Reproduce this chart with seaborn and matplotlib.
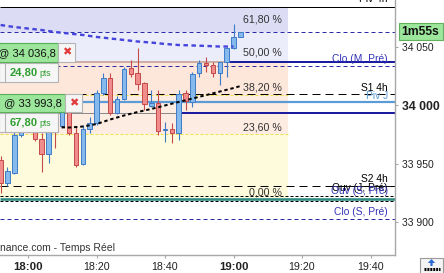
import matplotlib
matplotlib.use("Agg")
import matplotlib.pyplot as plt
import seaborn as sns
import pandas as pd
import numpy as np
from matplotlib.patches import Rectangle, Polygon

# ---------------- data ----------------
candle_minutes = list(range(-8, 64, 2))  # minutes after 18:00, 2-minute candles
opens = [33953.3, 33933.7, 33942.2, 33974.7, 33989.3, 33982.4, 33971.3, 33958.5, 33987.6, 33982.4,
         34002.1, 33976.4, 33949.9, 33979.9, 33985.0, 34010.7, 34023.5, 33993.5, 34005.5, 34032.0,
         34027.8, 34019.2, 33999.5, 34002.1, 33979.0, 33979.9, 33976.4, 34010.7, 34003.0, 34027.8,
         34036.3, 34034.6, 34027.8, 34037.2, 34049.1, 34058.6]
highs = [33956.8, 33947.3, 33979.0, 33994.4, 33996.1, 33985.8, 33976.4, 33989.3, 33991.8, 34006.4,
         34004.7, 33981.6, 33983.3, 33990.1, 34013.2, 34027.8, 34027.8, 34008.1, 34032.9, 34038.9,
         34049.1, 34020.1, 34013.2, 34013.2, 33985.8, 33985.0, 34013.2, 34013.2, 34028.6, 34038.9,
         34041.4, 34037.2, 34037.2, 34050.0, 34069.7, 34062.8]
lows = [33925.1, 33931.1, 33941.4, 33973.0, 33979.0, 33969.6, 33943.1, 33950.8, 33963.6, 33980.7,
        33974.7, 33947.3, 33949.1, 33976.4, 33983.3, 34008.9, 33991.8, 33992.7, 34004.7, 34024.3,
        34013.2, 33996.1, 33998.7, 33974.7, 33968.7, 33967.9, 33970.4, 33996.1, 33998.7, 34024.3,
        34028.6, 34024.3, 34017.5, 34024.3, 34048.3, 34058.6]
closes = [33933.7, 33943.9, 33974.7, 33989.3, 33982.4, 33971.3, 33958.5, 33985.8, 33980.7, 34002.1,
          33976.4, 33949.1, 33979.9, 33985.0, 34010.7, 34023.5, 33993.5, 34005.5, 34031.2, 34026.9,
          34018.4, 34001.2, 34002.1, 33978.1, 33979.9, 33976.4, 34009.8, 34003.8, 34026.9, 34036.3,
          34034.6, 34027.8, 34037.2, 34049.1, 34058.6, 34062.8]

ma_fast_minutes = list(range(-8, 64, 4))
ma_fast = [34068.8, 34067.1, 34065.8, 34064.5, 34062.8, 34061.5, 34060.3, 34058.6, 34057.3,
           34056.0, 34054.7, 34053.8, 34052.6, 34051.7, 34051.3, 34050.9, 34050.4, 34050.4]
ma_slow_minutes = [8, 12, 16, 20, 24, 28, 32, 36, 40, 44, 48, 52, 56, 60, 62]
ma_slow = [33981.6, 33981.1, 33982.0, 33984.1, 33988.0, 33991.4, 33994.4, 33997.0, 34000.0,
           34003.0, 34005.9, 34008.9, 34011.9, 34014.9, 34016.6]

fib_low = 33921.0
fib_high = 34151.0
fib_pcts = [0.0, 23.6, 38.2, 50.0, 61.8]
fib_labels = ["0,00 %", "23,60 %", "38,20 %", "50,00 %", "61,80 %"]

piv_4h = 34084.2
upper_dash = 34062.8
order_1 = 34036.8
order_1_text = "@ 34 036,8"
order_1_pts = "24,80"
mid_dash = 34033.7
s1_4h = 34009.8
piv_j = 34003.0
order_2 = 33993.8
order_2_text = "@ 33 993,8"
order_2_pts = "67,80"
s2_4h = 33931.0
ouv_j_pre = 33922.9
ouv_s_pre = 33920.0
low_dash = 33918.3
clo_s_pre = 33902.6

x_ticks = [0, 20, 40, 60, 80, 100]
x_tick_labels = ["18:00", "18:20", "18:40", "19:00", "19:20", "19:40"]
y_ticks = [33900, 33950, 34000, 34050]
y_tick_labels = ["33 900", "33 950", "34 000", "34 050"]
countdown = "1m55s"
source_text = "nance.com - Temps Réel"

# ---------------- style ----------------
sns.set_theme(style="white")
plt.rcParams["font.family"] = ["Liberation Sans", "DejaVu Sans"]
plt.rcParams["lines.scale_dashes"] = False

W, H = 444, 273
PR, PB = 395, 255          # plot right / bottom in px
X0, X1 = -8.18, 107.15
Y0, Y1 = 33872.1, 34090.2
fib_end = 76.0
PX = 0.72                  # px -> pt

fig = plt.figure(figsize=(W / 100, H / 100), dpi=100, facecolor="white")
ax = fig.add_axes([0, 1 - PB / H, PR / W, PB / H])
ax.set_facecolor("white")
ax.set_xlim(X0, X1)
ax.set_ylim(Y0, Y1)

def price_px(p):
    return (Y1 - p) / (Y1 - Y0) * PB

# Fibonacci bands
fib_prices = [fib_low + (fib_high - fib_low) * p / 100 for p in fib_pcts]
edges = fib_prices + [piv_4h]
band_colors = ["#fefbdc", "#fdece2", "#fde6da", "#ecedfb", "#dcdcf5"]
for i, c in enumerate(band_colors):
    ax.fill_between([X0, fib_end], edges[i], edges[i + 1], color=c, lw=0, zorder=0)

def hline(y, x0, x1, color, lw_px, dashes=None, z=2):
    kw = dict(color=color, linewidth=lw_px * PX, zorder=z, solid_capstyle="butt")
    if dashes is not None:
        kw["dashes"] = [d * PX for d in dashes]
    ax.plot([x0, x1], [y, y], **kw)

navy = "#2c2caa"
hline(piv_4h, X0, X1, "black", 1.0)
hline(upper_dash, X0, X1, navy, 1.0, (4, 3))
hline(order_1, X0, X1, "#c49a88", 1.5)
hline(order_1, 58, X1, "#1c1ca0", 2.0)
hline(mid_dash, X0, X1, navy, 1.0, (4, 3))
hline(fib_prices[2], X0, fib_end, "#efe050", 1.0, (3, 2))
hline(s1_4h, X0, X1, "black", 1.0, (8, 5))
hline(piv_j, X0, X1, "#5a9bd8", 2.2)
hline(order_2, X0, 44, "#8a8a8a", 1.0)
hline(order_2, 44, X1, "#1c1ca0", 2.0)
hline(fib_prices[1], X0, fib_end, "#efe050", 1.0, (3, 2))
hline(s2_4h, X0, X1, "black", 1.0, (8, 5))
hline(s2_4h, 88.8, 106.0, "black", 0.9)
hline(ouv_j_pre, X0, X1, "black", 1.0, (3, 2))
hline(ouv_s_pre, X0, X1, "#2f8a80", 2.6)
hline(low_dash, X0, X1, "black", 1.0, (3, 2))
hline(clo_s_pre, X0, X1, navy, 1.0, (4, 3))

# Candles
df = pd.DataFrame({"t": candle_minutes, "o": opens, "h": highs, "l": lows, "c": closes})
up = df["c"] >= df["o"]
fills = np.where(up, "#86b9ec", "#f08c8c")
edgec = np.where(up, "#3f7cc8", "#c64a4a")
ax.vlines(df["t"], df["l"], df["h"], colors=edgec, linewidth=0.8, zorder=4)
body_low = np.minimum(df["o"], df["c"])
body_h = np.maximum((df["c"] - df["o"]).abs(), 0.7)
ax.bar(df["t"], body_h, bottom=body_low, width=1.3, color=fills, edgecolor=edgec,
       linewidth=0.7, zorder=5)

# Moving averages (dashed)
n_before = len(ax.lines)
sns.lineplot(x=ma_fast_minutes, y=ma_fast, ax=ax, color="#4646dc", linewidth=2.4 * PX, zorder=6)
ax.lines[n_before].set_linestyle((0, (4.5 * PX, 3.5 * PX)))
ax.lines[n_before].set_dash_capstyle("butt")
n_before = len(ax.lines)
sns.lineplot(x=ma_slow_minutes, y=ma_slow, ax=ax, color="black", linewidth=2.0 * PX, zorder=6)
ax.lines[n_before].set_linestyle((0, (3.4 * PX, 2.8 * PX)))
ax.lines[n_before].set_dash_capstyle("butt")
ax.set_xlim(X0, X1)
ax.set_ylim(Y0, Y1)
ax.set_xlabel("")
ax.set_ylabel("")

# Fib labels
fib_label_x = 74.2
fib_label_off = [5.8, 7.3, 8.0, 11.1, 11.7]
for p, lab, off in zip(fib_prices, fib_labels, fib_label_off):
    ax.annotate(lab, (fib_label_x, p), xytext=(0, off * PX), textcoords="offset points",
                ha="right", va="center", fontsize=7.7, color="#333333", zorder=7)

# Right-side level labels
label_x = 105.1
navy_lab = "#3434b8"
right_labels = [
    ("Piv 4h", piv_4h, "black", 8.0),
    ("Clo (M, Pré)", order_1, navy_lab, 3.0),
    ("S1 4h", s1_4h, "black", 6.5),
    ("Piv J", piv_j, "#5a9bd8", 6.0),
    ("S2 4h", s2_4h, "black", 7.5),
    ("Ouv (J, Pré)", ouv_j_pre, "black", 7.7),
    ("Ouv (S, Pré)", ouv_s_pre, navy_lab, 8.0),
    ("Clo (S, Pré)", clo_s_pre, navy_lab, 7.0),
]
for lab, p, col, off in right_labels:
    ax.annotate(lab, (label_x, p), xytext=(0, off * PX), textcoords="offset points",
                ha="right", va="center", fontsize=7.4, color=col, zorder=7, annotation_clip=False)

# Axes / ticks
for s in ["top", "left"]:
    ax.spines[s].set_visible(False)
for s in ["right", "bottom"]:
    ax.spines[s].set_color("#a8a8a8")
    ax.spines[s].set_linewidth(1.0)
ax.yaxis.tick_right()
ax.set_xticks(x_ticks)
ax.set_xticklabels(x_tick_labels)
ax.set_yticks(y_ticks)
ax.set_yticklabels(y_tick_labels)
ax.tick_params(axis="x", bottom=True, length=2.5, width=0.8, color="#a8a8a8", pad=2.5,
               labelsize=7.7, labelcolor="#222222")
ax.tick_params(axis="y", right=True, left=False, length=2.4, width=0.8, color="#a8a8a8",
               pad=2.5, labelsize=7.5, labelcolor="#222222")
for t in ax.get_xticklabels():
    if t.get_text() in ("18:00", "19:00"):
        t.set_fontweight("bold")
        t.set_fontsize(8.2)
for t in ax.get_yticklabels():
    if t.get_text() == "34 000":
        t.set_fontweight("bold")
        t.set_fontsize(8.8)
ax.grid(False)

# ---------------- overlay widgets (pixel space) ----------------
ov = fig.add_axes([0, 0, 1, 1], zorder=10)
ov.set_xlim(0, W)
ov.set_ylim(H, 0)
ov.axis("off")

green_f, green_e = "#9be69b", "#55b055"
grey_f, grey_e = "#f6f6f6", "#b4b4b4"
pts_col = "#2e9e2e"

def order_box(price, text, pts, green_w, text_x):
    yo = price_px(price)
    ov.add_patch(Rectangle((-1, yo - 19), green_w + 1, 18.5, facecolor=green_f, edgecolor=green_e, lw=0.8))
    ov.text(text_x, yo - 9.8, text, fontsize=8, color="#111111", ha="left", va="center")
    ov.add_patch(Rectangle((green_w, yo - 19), 17, 18.5, facecolor=grey_f, edgecolor=grey_e, lw=0.8))
    ov.text(green_w + 8.5, yo - 9.6, "✖", fontsize=8, color="#e03a3a", ha="center", va="center",
            family="DejaVu Sans")
    ov.add_patch(Rectangle((-1, yo + 0.5), 59, 19, facecolor=grey_f, edgecolor=grey_e, lw=0.8))
    ov.plot([5, 5], [yo + 0.5, yo + 19.5], color=grey_e, lw=0.8)
    ov.text(10, yo + 10.2, pts, fontsize=8, color=pts_col, fontweight="bold", ha="left", va="center")
    ov.text(39.5, yo + 10.6, "pts", fontsize=6.3, color=pts_col, ha="left", va="center")

order_box(order_1, order_1_text, order_1_pts, 58, -1.5)
order_box(order_2, order_2_text, order_2_pts, 65, 4)

# countdown
ov.add_patch(Rectangle((398.5, 23), 44, 17, facecolor="#9de79d", edgecolor="#60b060", lw=0.8))
ov.text(420.5, 31.8, countdown, fontsize=8.7, fontweight="bold", color="#111111",
        ha="center", va="center")

# source text
ov.text(0, 248, source_text, fontsize=7.5, color="#333333", ha="left", va="center")

# small icon bottom right
ov.add_patch(Rectangle((420, 257.5), 23, 16, facecolor="#f4f4f4", edgecolor="#9a9a9a", lw=0.8))
ov.add_patch(Polygon([(431.5, 259), (427.8, 263), (430.4, 263), (430.4, 266), (432.6, 266),
                      (432.6, 263), (435.2, 263)], closed=True, facecolor="#2a6ad0", edgecolor="none"))
ov.plot([424, 439.5], [268.8, 268.8], color="black", lw=2.2, dashes=(1.4, 0.7))

fig.savefig("out.png", dpi=100, facecolor="white")
